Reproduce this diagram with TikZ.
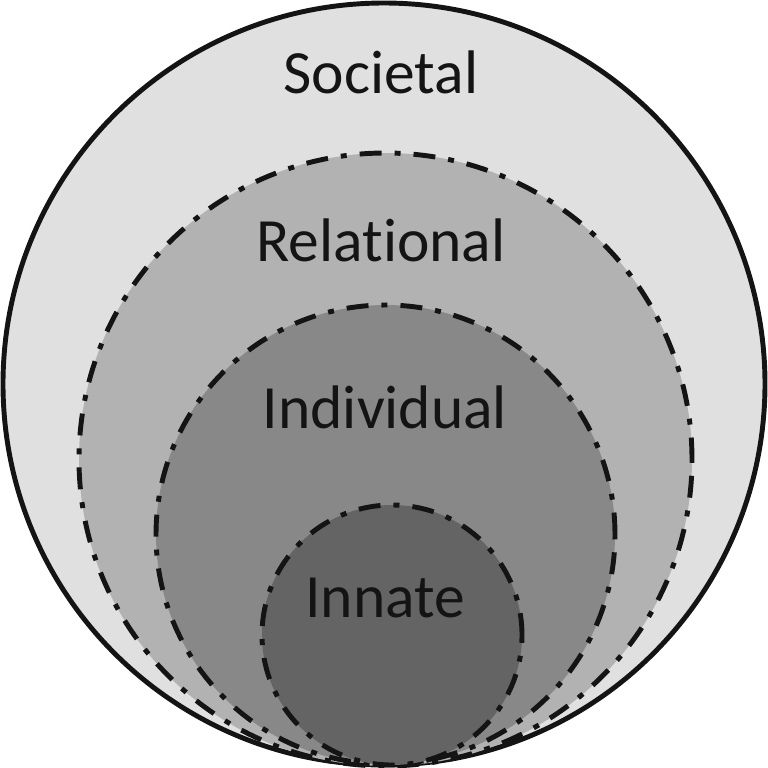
\documentclass[tikz,border=0pt]{standalone}
\usepackage{fontspec}
\setmainfont[Ligatures=NoCommon]{Carlito}
\begin{document}
\begin{tikzpicture}[x=0.02cm,y=-0.02cm,
  ring/.style={line width=2.8pt, draw=black!92},
  dashring/.style={ring, dash pattern=on 12.5pt off 7.4pt on 3.4pt off 7.4pt},
  lbl/.style={font=\fontsize{35}{40}\selectfont, text=black!92, inner sep=0pt}]
\useasboundingbox (0,0) rectangle (768,768);
\path[ring, fill={rgb,255:red,224;green,224;blue,224}] (384,384) circle [radius=0.02cm*381];
\path[dashring, fill={rgb,255:red,178;green,178;blue,178}] (385.5,459.5) circle [radius=0.02cm*306.5];
\path[dashring, fill={rgb,255:red,136;green,136;blue,136}] (385.5,534.5) circle [radius=0.02cm*229.5];
\path[dashring, fill={rgb,255:red,100;green,100;blue,100}] (392,635) circle [radius=0.02cm*130];
\node[lbl] (soc) at (381,72) {Societal};
\node[lbl] (rel) at (381,240) {Relational};
\node[lbl] (ind) at (385,407) {Individual};
\node[lbl] (inn) at (385,598) {Innate};
\end{tikzpicture}
\end{document}
